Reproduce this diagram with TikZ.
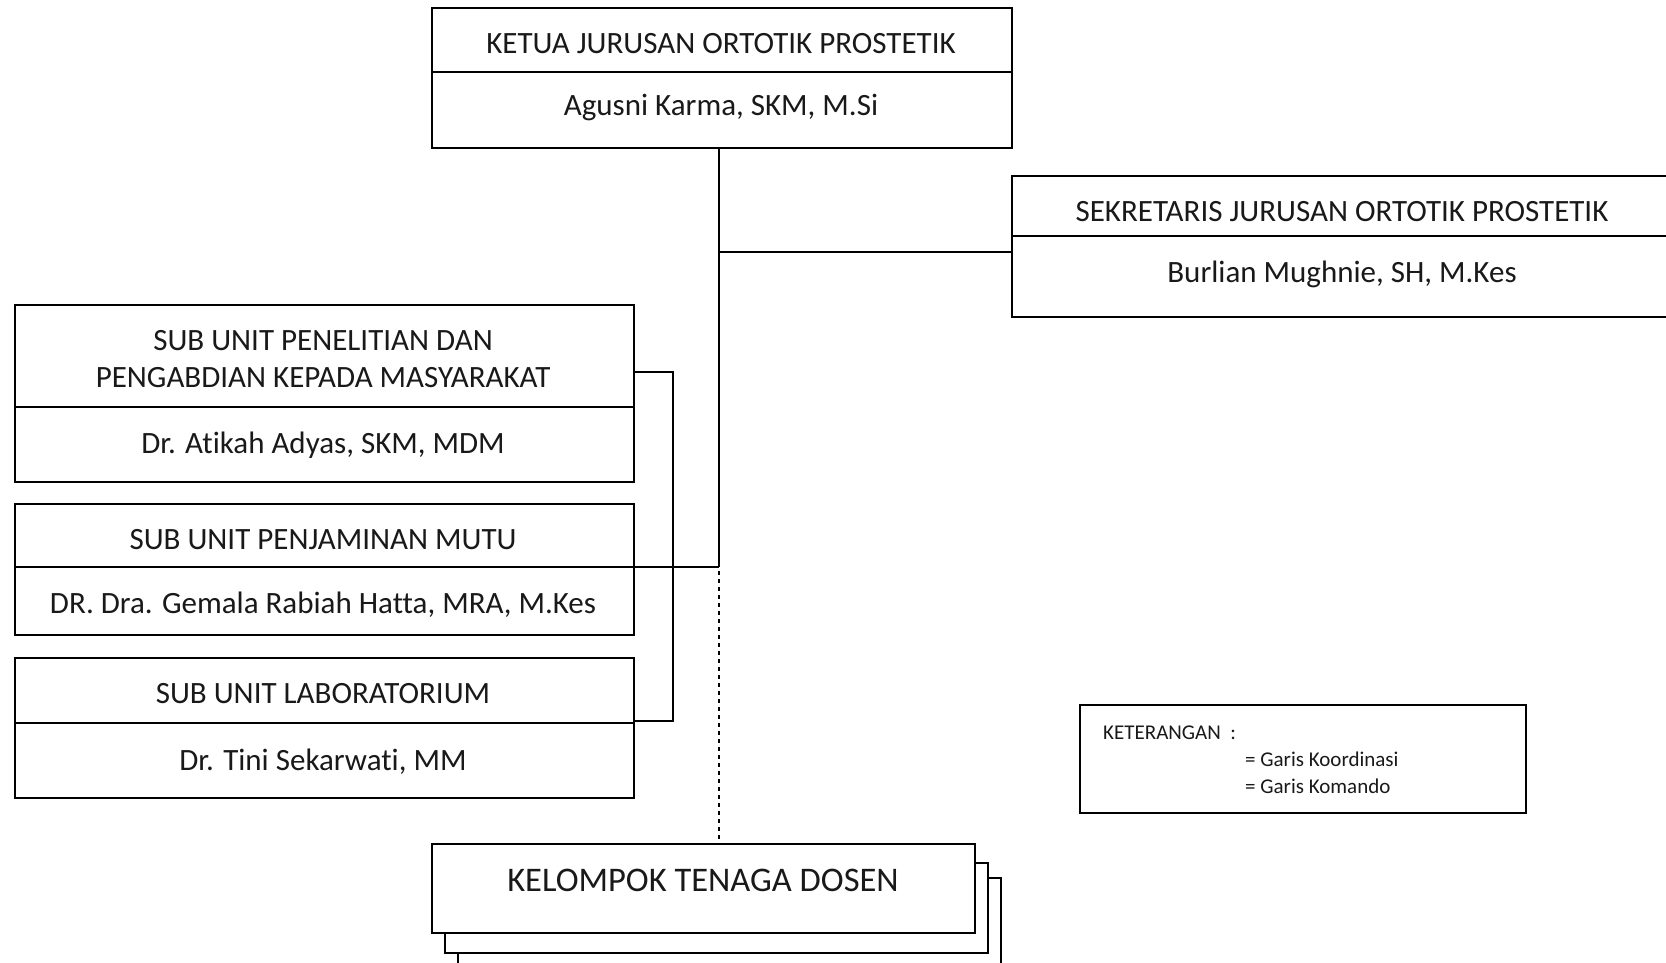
\documentclass[tikz,border=0pt]{standalone}
\usepackage{fontspec}
\setmainfont[Ligatures={NoCommon}]{Carlito}
\begin{document}
\begin{tikzpicture}[x=1pt,y=-1pt,
  box/.style={draw=black,line width=1.6pt,fill=white,inner sep=0pt,anchor=north west},
  ln/.style={draw=black,line width=1.6pt},
  dashln/.style={draw=black,line width=1.6pt,dash pattern=on 4pt off 4pt},
  txt/.style={anchor=base,inner sep=0pt,font=\fontsize{31}{35}\selectfont,text=black!90},
  big/.style={anchor=base,inner sep=0pt,font=\fontsize{34.5}{38}\selectfont,text=black!90},
  small/.style={anchor=base west,inner sep=0pt,font=\fontsize{21}{24}\selectfont,text=black!90}]
\useasboundingbox (0,0) rectangle (1666,963);
\clip (0,0) rectangle (1666,963);
% Ketua
\node[box,minimum width=580,minimum height=140] (ketua) at (431,7) {};
\coordinate (kd1) at (431,72); \coordinate (kd2) at (1011,72);
\draw[ln] (kd1) -- (kd2);
\node[txt] (kt) at (721,54) {KETUA JURUSAN ORTOTIK PROSTETIK};
\node[txt] (kn) at (721,116) {Agusni Karma, SKM, M.Si};
% Sekretaris
\node[box,minimum width=662,minimum height=141] (sek) at (1011,175) {};
\coordinate (sd1) at (1011,236); \coordinate (sd2) at (1673,236);
\draw[ln] (sd1) -- (sd2);
\node[txt] (st) at (1342,221) {SEKRETARIS JURUSAN ORTOTIK PROSTETIK};
\node[txt] (sn) at (1342,282) {Burlian Mughnie, SH, M.Kes};
% Sub unit 1
\node[box,minimum width=619,minimum height=177] (s1) at (14,304) {};
\coordinate (s1d1) at (14,407); \coordinate (s1d2) at (633,407);
\draw[ln] (s1d1) -- (s1d2);
\node[txt] (s1t1) at (323,350) {SUB UNIT PENELITIAN DAN};
\node[txt] (s1t2) at (323,387) {PENGABDIAN KEPADA MASYARAKAT};
\node[txt] (s1n) at (323,453) {Dr. Atikah Adyas, SKM, MDM};
% Sub unit 2
\node[box,minimum width=619,minimum height=131] (s2) at (14,503) {};
\coordinate (s2d1) at (14,567); \coordinate (s2d2) at (633,567);
\draw[ln] (s2d1) -- (s2d2);
\node[txt] (s2t) at (323,549) {SUB UNIT PENJAMINAN MUTU};
\node[txt] (s2n) at (323,613) {DR. Dra. Gemala Rabiah Hatta, MRA, M.Kes};
% Sub unit 3
\node[box,minimum width=619,minimum height=140] (s3) at (14,657) {};
\coordinate (s3d1) at (14,723); \coordinate (s3d2) at (633,723);
\draw[ln] (s3d1) -- (s3d2);
\node[txt] (s3t) at (323,703) {SUB UNIT LABORATORIUM};
\node[txt] (s3n) at (323,770) {Dr. Tini Sekarwati, MM};
% Kelompok tenaga dosen (stacked)
\node[box,minimum width=543,minimum height=120] (k3) at (457,877) {};
\node[box,minimum width=543,minimum height=90] (k2) at (444,862) {};
\node[box,minimum width=543,minimum height=89] (k1) at (431,843) {};
\node[big] (kkt) at (703,891) {KELOMPOK TENAGA DOSEN};
% Legend
\node[box,minimum width=446,minimum height=108] (leg) at (1079,704) {};
\node[small] (l1) at (1103,739) {KETERANGAN\ \ :};
\node[small] (l2) at (1245,766) {= Garis Koordinasi};
\node[small] (l3) at (1245,793) {= Garis Komando};
% Connectors
\coordinate (jk) at (719,147);
\coordinate (js) at (719,252);
\coordinate (jm) at (719,567);
\coordinate (b1) at (633,372);
\coordinate (b2) at (673,721);
\coordinate (b3) at (633,721);
\coordinate (kt1) at (719,843);
\draw[ln] (jk) -- (jm);
\draw[ln] (js) -- (sd1 |- js);
\draw[ln] (s2d2) -- (jm);
\draw[ln] (b1) -| (b2) -- (b3);
\draw[dashln] ([yshift=4pt]jm) -- (kt1);
\end{tikzpicture}
\end{document}
